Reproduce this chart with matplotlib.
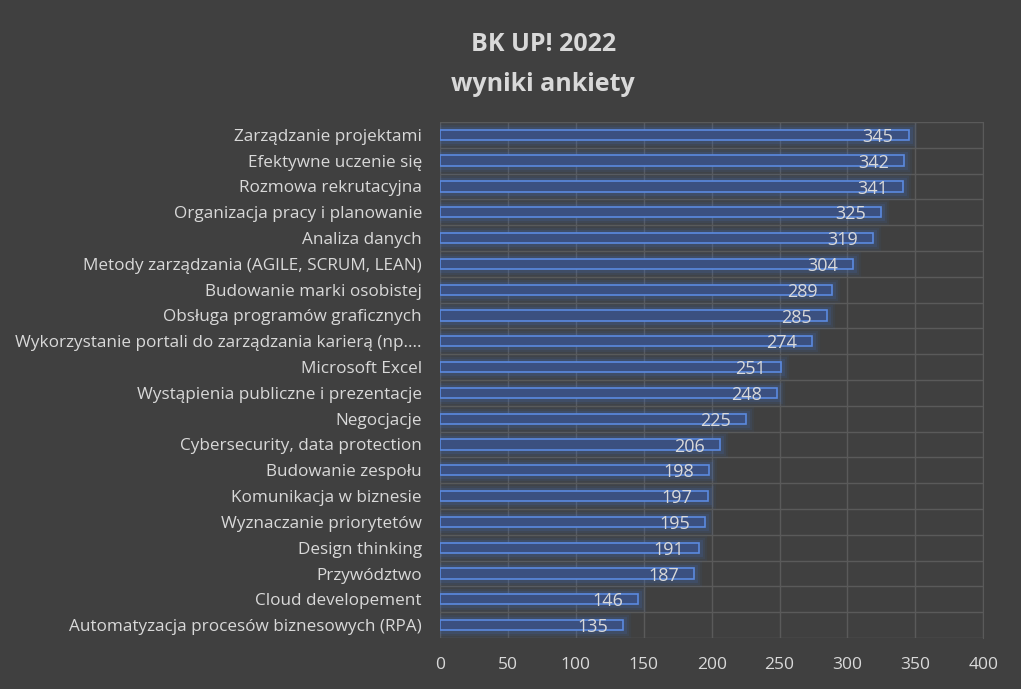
import matplotlib.pyplot as plt

categories = [
    "Zarządzanie projektami",
    "Efektywne uczenie się",
    "Rozmowa rekrutacyjna",
    "Organizacja pracy i planowanie",
    "Analiza danych",
    "Metody zarządzania (AGILE, SCRUM, LEAN)",
    "Budowanie marki osobistej",
    "Obsługa programów graficznych",
    "Wykorzystanie portali do zarządzania karierą (np....",
    "Microsoft Excel",
    "Wystąpienia publiczne i prezentacje",
    "Negocjacje",
    "Cybersecurity, data protection",
    "Budowanie zespołu",
    "Komunikacja w biznesie",
    "Wyznaczanie priorytetów",
    "Design thinking",
    "Przywództwo",
    "Cloud developement",
    "Automatyzacja procesów biznesowych (RPA)",
]
values = [345, 342, 341, 325, 319, 304, 289, 285, 274, 251,
          248, 225, 206, 198, 197, 195, 191, 187, 146, 135]
xticks = [0, 50, 100, 150, 200, 250, 300, 350, 400]

plt.rcParams['font.family'] = ['Open Sans', 'DejaVu Sans']

bg = '#404040'
txt = '#d9d9d9'
grid = '#5a5a5a'

fig = plt.figure(figsize=(10.21, 6.89), dpi=100, facecolor=bg)
ax = fig.add_axes([0.431, 0.074, 0.532, 0.749], facecolor=bg)

n = len(categories)
ypos = list(range(n))

# glow behind the bars
for lw, a in [(11, 0.06), (8, 0.09), (5, 0.14)]:
    ax.barh(ypos, values, height=0.4, color='none', edgecolor='#3f74d8',
            linewidth=lw, alpha=a, zorder=2)
bars = ax.barh(ypos, values, height=0.4, color='#3b5080',
               edgecolor='#5b8ae0', linewidth=1.2, zorder=3)

for y, v in zip(ypos, values):
    ax.text(v - 11, y + 0.08, str(v), ha='right', va='center',
            color=txt, fontsize=13, zorder=4)

ax.set_ylim(n - 0.5, -0.5)
ax.set_xlim(0, 400)
ax.set_yticks(ypos)
ax.set_yticklabels(categories, color=txt, fontsize=12.3)
ax.set_xticks(xticks)
ax.set_xticklabels([str(t) for t in xticks], color=txt, fontsize=12.5)
ax.tick_params(length=0, axis='y', pad=13)
ax.tick_params(length=0, axis='x', pad=14)

# row separators and vertical gridlines
ax.set_yticks([i + 0.5 for i in range(-1, n)], minor=True)
ax.grid(True, axis='x', color=grid, linewidth=1, zorder=0)
ax.grid(True, axis='y', which='minor', color=grid, linewidth=1, zorder=0)
ax.tick_params(which='minor', length=0)
for s in ['left', 'top', 'bottom']:
    ax.spines[s].set_visible(False)
ax.spines['right'].set_color(grid)

fig.text(0.532, 0.935, "BK UP! 2022", ha='center', va='center',
         color=txt, fontsize=18, fontweight='bold')
fig.text(0.532, 0.878, "wyniki ankiety", ha='center', va='center',
         color=txt, fontsize=18, fontweight='bold')

fig.savefig('out.png', dpi=100, facecolor=bg)
